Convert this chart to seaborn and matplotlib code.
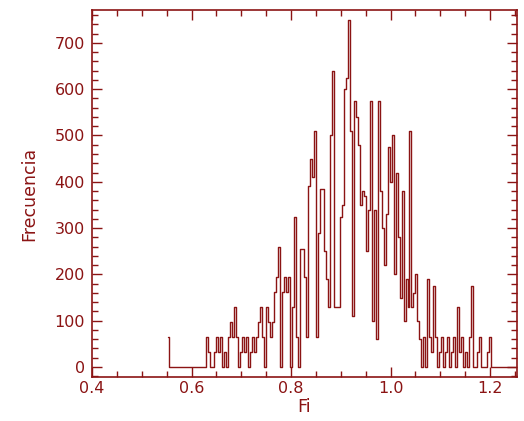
from matplotlib import pyplot as plt
from matplotlib.ticker import MultipleLocator
import seaborn as sns
import numpy as np

# histogram of Fi: bin width 0.004, first bin centred at 0.552
bin_start = 0.552
bin_width = 0.004
counts = [
    65, 0, 0, 0, 0, 0, 0, 0, 0, 0,
    0, 0, 0, 0, 0, 0, 0, 0, 0, 0,
    65, 32, 0, 0, 32, 65, 32, 65, 0, 32,
    0, 65, 97, 65, 130, 65, 0, 32, 65, 32,
    65, 0, 32, 65, 32, 65, 97, 130, 65, 0,
    130, 97, 65, 97, 162, 195, 260, 0, 162, 195,
    162, 195, 0, 130, 325, 65, 0, 255, 255, 195,
    65, 390, 450, 410, 510, 65, 290, 385, 385, 250,
    190, 130, 500, 640, 130, 130, 130, 325, 350, 600,
    625, 750, 510, 110, 575, 540, 480, 350, 380, 370,
    250, 340, 575, 100, 340, 60, 575, 380, 300, 220,
    330, 475, 400, 500, 200, 420, 280, 150, 380, 100,
    190, 130, 510, 130, 160, 200, 100, 60, 0, 65,
    0, 190, 65, 32, 175, 65, 0, 32, 65, 0,
    32, 65, 0, 32, 65, 0, 130, 32, 65, 0,
    32, 0, 65, 175, 0, 0, 32, 65, 0, 0,
    0, 32, 65, 0, 0, 0, 0, 0, 0, 0,
    0, 0, 0, 0, 0, 0,
]
centers = bin_start + bin_width * np.arange(len(counts))

red = '#8b1414'

sns.set_style("ticks")
plt.rcParams['font.family'] = ['DejaVu Sans']

fig = plt.figure(figsize=(5.24, 4.21), dpi=100)
ax = fig.add_axes([0.1756, 0.1045, 0.811, 0.8717])

sns.lineplot(x=centers, y=counts, drawstyle='steps-mid', color=red, lw=1.0, ax=ax)

ax.set_xlim(0.4, 1.254)
ax.set_ylim(-21.6, 771)

ax.xaxis.set_major_locator(MultipleLocator(0.2))
ax.xaxis.set_minor_locator(MultipleLocator(0.05))
ax.yaxis.set_major_locator(MultipleLocator(100))
ax.yaxis.set_minor_locator(MultipleLocator(20))
ax.xaxis.set_major_formatter(plt.FuncFormatter(lambda v, p: f"{v:.1f}"))

ax.tick_params(which='both', direction='in', top=True, right=True, color=red, width=1, labelcolor=red, labelsize=11.5)
ax.tick_params(which='major', length=7)
ax.tick_params(which='minor', length=4)
ax.tick_params(axis='x', pad=3)
ax.tick_params(axis='y', pad=5)

for s in ax.spines.values():
    s.set_color(red)
    s.set_linewidth(1.2)

ax.set_xlabel("Fi", color=red, fontsize=12.5, labelpad=1)
ax.set_ylabel("Frecuencia", color=red, fontsize=12.5, labelpad=12)

plt.savefig("out.png", dpi=100)
